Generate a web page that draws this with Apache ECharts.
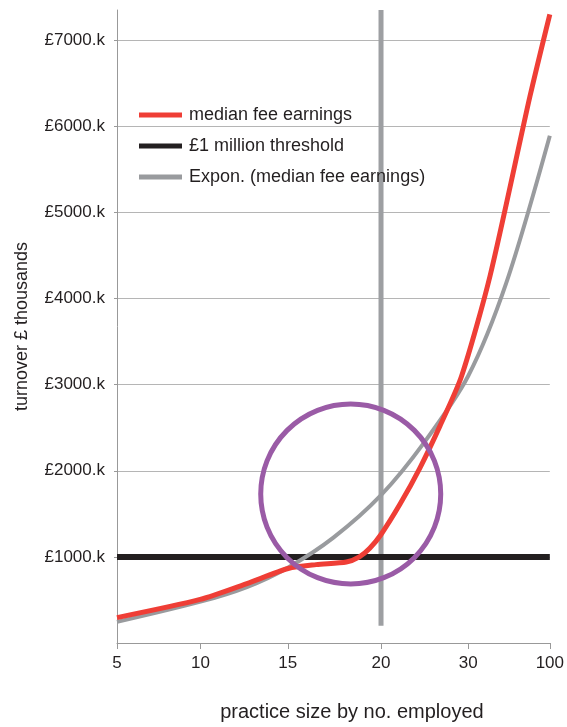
<!DOCTYPE html>
<html>
<head>
<meta charset="utf-8">
<title>median fee earnings by practice size</title>
<script src="https://cdn.jsdelivr.net/npm/echarts@6/dist/echarts.min.js"></script>
<style>
  html, body { margin: 0; padding: 0; background: #fff; }
  #chart { width: 567px; height: 727px; }
</style>
</head>
<body>
<div id="chart"></div>
<script>
  // practice size categories and where each one sits along the x axis
  var sizeLabels = ['5', '10', '15', '20', '30', '100'];
  var sizePos = [0, 0.965, 1.973, 3.05, 4.057, 5];

  // median fee earnings (x in the same axis units)
  var medianPos = [0, 0.961, 1.5, 1.977, 2.3, 2.65, 2.8, 2.92, 3.05, 3.27, 3.5, 3.73, 3.98, 4.31, 4.77, 5];
  var medianFee = [295, 506, 690, 865, 910, 940, 1000, 1100, 1260, 1613, 2034, 2518, 3097, 4264, 6345, 7300];

  // exponential trend of median fee earnings
  var trendPos = [0, 0.965, 1.5, 1.973, 2.5, 3.05, 3.55, 4.057, 4.5, 5];
  var trendFee = [245, 480, 650, 875, 1224, 1717, 2330, 3100, 4190, 5890];

  // £1 million threshold
  var threshold = 1000;

  // vertical marker at 20 employees
  var markerRange = [200, 7350];

  // highlighted region (centre in data units)
  var circleCenter = [2.7, 1730];

  var yTicks = [1000, 2000, 3000, 4000, 5000, 6000, 7000];

  var FONT = '"Liberation Sans", Arial, Helvetica, sans-serif';
  var TEXT = '#231f20';

  function pairs(xs, ys) {
    var out = [];
    for (var i = 0; i < xs.length; i++) out.push([xs[i], ys[i]]);
    return out;
  }

  function sizeLabel(v) {
    var best = 0;
    for (var i = 1; i < sizePos.length; i++) {
      if (Math.abs(sizePos[i] - v) < Math.abs(sizePos[best] - v)) best = i;
    }
    return sizeLabels[best];
  }

  var chart = echarts.init(document.getElementById('chart'), null, {renderer: 'canvas'});

  chart.setOption({
    animation: false,
    backgroundColor: '#ffffff',
    textStyle: {fontFamily: FONT, color: TEXT},
    grid: {
      left: 117,
      right: 17,
      top: 10,
      bottom: 81.5,
      containLabel: false
    },
    legend: {
      orient: 'vertical',
      left: 134,
      top: 100,
      icon: 'rect',
      itemWidth: 43,
      itemHeight: 5,
      itemGap: 11,
      itemStyle: {borderWidth: 0},
      textStyle: {fontFamily: FONT, fontSize: 18, color: TEXT, lineHeight: 20, padding: [0, 0, 0, 2]},
      data: ['median fee earnings', '£1 million threshold', 'Expon. (median fee earnings)']
    },
    xAxis: {
      type: 'value',
      min: 0,
      max: 5,
      name: 'practice size by no. employed',
      nameLocation: 'middle',
      nameGap: 59,
      nameTextStyle: {fontFamily: FONT, fontSize: 20, color: TEXT, padding: [0, 0, 0, 37]},
      axisLine: {show: true, lineStyle: {color: '#999999', width: 1}},
      axisTick: {show: true, length: 6, customValues: sizePos, lineStyle: {color: '#999999'}},
      axisLabel: {
        fontFamily: FONT, fontSize: 17, color: TEXT, margin: 12,
        customValues: sizePos,
        formatter: sizeLabel
      },
      splitLine: {show: false}
    },
    yAxis: {
      type: 'value',
      min: 0,
      max: 7350,
      interval: 1000,
      name: 'turnover £ thousands',
      nameLocation: 'middle',
      nameGap: 86,
      nameRotate: 90,
      nameTextStyle: {fontFamily: FONT, fontSize: 18, color: TEXT},
      axisLine: {show: true, lineStyle: {color: '#999999', width: 1}},
      axisTick: {show: true, length: 3, lineStyle: {color: '#999999'}},
      axisLabel: {
        fontFamily: FONT, fontSize: 17, color: TEXT, margin: 12,
        showMinLabel: false, showMaxLabel: false,
        formatter: function (v) { return yTicks.indexOf(v) >= 0 ? '£' + v + '.k' : ''; }
      },
      splitLine: {show: true, showMinLine: false, showMaxLine: false, lineStyle: {color: '#b5b5b5', width: 1}}
    },
    series: [
      {
        name: 'marker',
        type: 'line',
        silent: true,
        symbol: 'none',
        z: 1,
        lineStyle: {color: '#9d9fa2', width: 5, cap: 'butt'},
        data: [[sizePos[3], markerRange[0]], [sizePos[3], markerRange[1]]]
      },
      {
        name: '£1 million threshold',
        type: 'line',
        symbol: 'none',
        z: 2,
        color: '#231f20',
        lineStyle: {color: '#231f20', width: 6, cap: 'butt'},
        data: [[sizePos[0], threshold], [sizePos[5], threshold]]
      },
      {
        name: 'Expon. (median fee earnings)',
        type: 'line',
        symbol: 'none',
        smooth: 0.3,
        z: 3,
        color: '#999b9e',
        lineStyle: {color: '#999b9e', width: 4},
        data: pairs(trendPos, trendFee)
      },
      {
        name: 'median fee earnings',
        type: 'line',
        symbol: 'none',
        smooth: 0.25,
        z: 4,
        color: '#ef3e36',
        lineStyle: {color: '#ef3e36', width: 5},
        data: pairs(medianPos, medianFee)
      }
    ]
  });

  var c = chart.convertToPixel({gridIndex: 0}, circleCenter);
  chart.setOption({
    graphic: [{
      type: 'circle',
      silent: true,
      z: 100,
      shape: {cx: c[0], cy: c[1], r: 90},
      style: {fill: 'none', stroke: '#9a5ba6', lineWidth: 5}
    }]
  });
</script>
</body>
</html>
